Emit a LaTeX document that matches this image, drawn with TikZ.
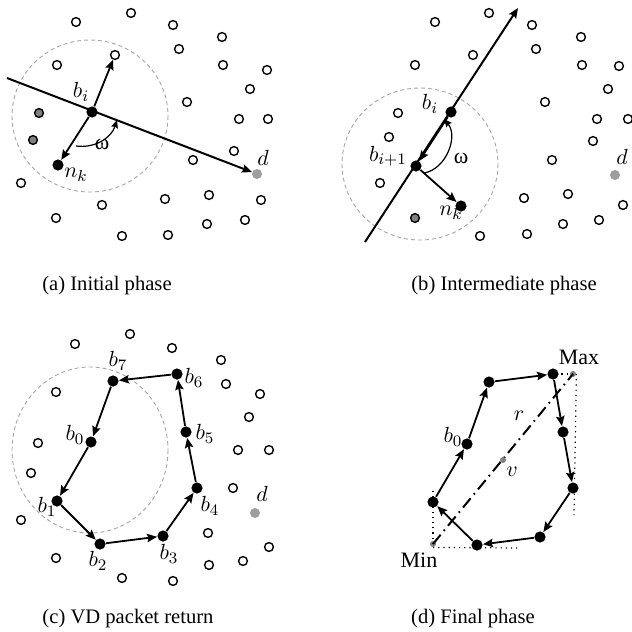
\documentclass[tikz,border=0pt]{standalone}
\usepackage{fontspec}
\setmainfont{Liberation Serif}
\usetikzlibrary{arrows.meta}

\begin{document}
\begin{tikzpicture}[x=0.5pt, y=-0.5pt,
    hole/.style={draw, circle, fill=white, line width=0.7pt, inner sep=0pt, minimum size=4.4pt},
    relay/.style={fill=black, circle, inner sep=0pt, minimum size=5.6pt},
    stuck/.style={draw, circle, fill=gray, line width=0.7pt, inner sep=0pt, minimum size=4.4pt},
    dest/.style={fill=black!38, circle, inner sep=0pt, minimum size=5pt},
    spot/.style={fill=gray, circle, inner sep=0pt, minimum size=3pt},
    zone/.style={draw=black!35, dash pattern=on 2pt off 1.5pt, line width=0.45pt},
    ray/.style={line width=1pt},
    hop/.style={line width=0.9pt, -{Stealth[length=5pt, width=4.2pt, inset=0.8pt]}},
    turn/.style={line width=0.6pt, -{Stealth[length=4pt, width=3.4pt, inset=0.6pt]}},
    lbl/.style={inner sep=0pt, font=\fontsize{11pt}{13pt}\selectfont},
    subcap/.style={anchor=base, inner sep=0pt, font=\fontsize{10.3pt}{12pt}\selectfont}]

    \useasboundingbox (0,0) rectangle (632,632);

    % (a) initial phase
    \draw[zone] (90,116) ellipse [x radius=78, y radius=76];
    \foreach \x/\y [count=\i] in {76/22,131/13,173/25,222/37,179/49,57/65,223/65,267/70,250/89,
        187/102,239/119,268/119,234/151,193/160,21/183,102/205,165/199,209/195,261/200,
        56/218,122/236,168/235,207/224,245/220}
        \node[hole] (ha\i) at (\x,\y) {};
    \node[hole] (ha0) at (115,55) {};
    \node[stuck] (sa1) at (39,113) {};
    \node[stuck] (sa2) at (33,140) {};
    \node[dest] (da) at (257,174) {};
    \node[relay] (bia) at (92,112) {};
    \node[relay] (nka) at (58,165) {};
    \coordinate (sa) at (7,78);
    \coordinate (wa1) at (76,146);
    \coordinate (wa2) at (117,120);
    \draw[hop, line width=1pt] (sa) -- (da);
    \draw[hop] (bia) -- (ha0);
    \draw[hop] (bia) -- (nka);
    \draw[turn] (wa1) to[bend right=40] (wa2);
    \node[lbl] (lbia) at (81,92) {$b_i$};
    \node[lbl] (lnka) at (76,175) {$n_k$};
    \node[lbl] (lwa) at (102,144) {ω};
    \node[lbl] (lda) at (263,158) {$d$};
    \node[subcap] (capa) at (107,290) {(a) Initial phase};

    % (b) intermediate phase
    \draw[zone] (420,164) ellipse [x radius=78, y radius=76];
    \foreach \x/\y [count=\i] in {435/22,489/13,532/25,581/37,536/49,473/55,415/65,582/65,619/66,
        608/89,545/102,597/119,628/119,398/113,389/137,593/141,552/160,380/183,568/194,
        524/198,623/205,599/220,563/224,527/234,480/236}
        \node[hole] (hb\i) at (\x,\y) {};
    \node[stuck] (sb1) at (415,218) {};
    \node[dest] (db) at (615,175) {};
    \node[relay] (bib) at (451,112) {};
    \node[relay] (bjb) at (416,166) {};
    \node[relay] (nkb) at (461,206) {};
    \coordinate (sb) at (365,242);
    \coordinate (eb) at (518,8);
    \coordinate (wb1) at (424,173);
    \coordinate (wb2) at (444,119);
    \draw[hop, line width=1pt] (sb) -- (eb);
    \draw[hop] (bib) -- (bjb);
    \draw[hop] (bjb) -- (nkb);
    \draw[turn] (wb1) to[bend right=60] (wb2);
    \node[lbl] (lbib) at (430,104) {$b_i$};
    \node[lbl] (lbjb) at (388,156) {$b_{i+1}$};
    \node[lbl] (lnkb) at (451,213) {$n_k$};
    \node[lbl] (lwb) at (461,158) {ω};
    \node[lbl] (ldb) at (622,157) {$d$};
    \node[subcap] (capb) at (504,290) {(b) Intermediate phase};

    % (c) VD packet return
    \draw[zone] (90,450) ellipse [x radius=78, y radius=83];
    \foreach \x/\y [count=\i] in {75/344,130/334,172/348,221/360,226/384,56/392,260/394,249/417,
        38/443,238/450,269/450,31/473,233/488,21/520,208/533,269/547,56/558,243/561,
        209/565,122/578,173/581}
        \node[hole] (hc\i) at (\x,\y) {};
    \node[dest] (dc) at (255,513) {};
    \foreach \n/\x/\y in {0/91/442,1/57/501,2/100/544,3/163/536,4/197/488,5/186/432,6/177/374,7/113/381}
        \node[relay] (c\n) at (\x,\y) {};
    \draw[hop] (c6) -- (c7);
    \draw[hop] (c7) -- (c0);
    \foreach \a/\b in {0/1,1/2,2/3,3/4,4/5,5/6}
        \draw[hop] (c\a) -- (c\b);
    \node[lbl] (lc7) at (118,361) {$b_7$};
    \node[lbl] (lc6) at (194,378) {$b_6$};
    \node[lbl] (lc0) at (75,435) {$b_0$};
    \node[lbl] (lc5) at (205,434) {$b_5$};
    \node[lbl] (lc1) at (47,507) {$b_1$};
    \node[lbl] (lc4) at (210,506) {$b_4$};
    \node[lbl] (lc2) at (98,561) {$b_2$};
    \node[lbl] (lc3) at (169,554) {$b_3$};
    \node[lbl] (ldc) at (262,494) {$d$};
    \node[subcap] (capc) at (128,623) {(c) VD packet return};

    % (d) final phase
    \foreach \n/\x/\y in {0/467/444,1/489/382,2/553/374,3/563/432,4/573/488,5/540/537,6/477/545,7/433/502}
        \node[relay] (q\n) at (\x,\y) {};
    \node[spot] (mx) at (573,374) {};
    \node[spot] (mn) at (433,544) {};
    \coordinate (mxl) at (551,374);
    \coordinate (mxd) at (574,515);
    \coordinate (mnu) at (433,487);
    \coordinate (mnr) at (517,548);
    \draw[dotted, line width=0.6pt] (mx.center) -- (mxl);
    \draw[dotted, line width=0.6pt] (mx.east) -- (mxd);
    \draw[dotted, line width=0.6pt] (mn.center) -- (mnu);
    \draw[dotted, line width=0.6pt] (mn.south) -- (mnr);
    \draw[line width=1pt, dash pattern=on 6pt off 2.5pt on 0.8pt off 2.5pt] (mn.center) -- (mx.center);
    \node[spot] (vd) at (503,460) {};
    \foreach \a/\b in {7/0,0/1,1/2,2/3,3/4,4/5,5/6,6/7}
        \draw[hop] (q\a) -- (q\b);
    \node[lbl] (lmx) at (579,357) {Max};
    \node[lbl] (lmn) at (419,560) {Min};
    \node[lbl] (lr) at (519,416) {$r$};
    \node[lbl] (lv) at (512,472) {$v$};
    \node[lbl] (lq0) at (453,437) {$b_0$};
    \node[subcap] (capd) at (473,623) {(d) Final phase};

\end{tikzpicture}
\end{document}
